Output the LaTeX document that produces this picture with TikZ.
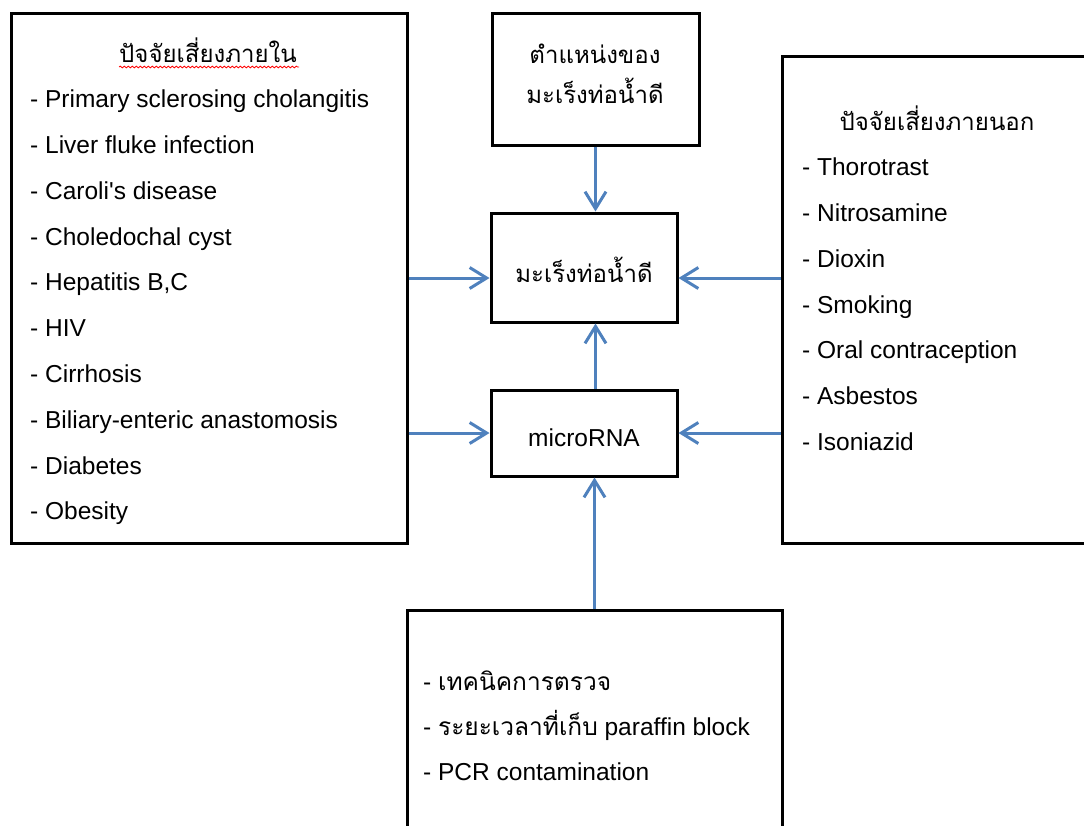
\documentclass[tikz,border=0pt]{standalone}
\usepackage{fontspec}
\setmainfont{Liberation Sans}[Ligatures=TeXOff]
\newfontfamily\thaifont[Script=Thai]{Loma}
\usetikzlibrary{arrows.meta,decorations.pathmorphing}
\definecolor{arrowblue}{RGB}{79,129,189}
\begin{document}
\begin{tikzpicture}[x=1pt,y=-1pt,
  box/.style={draw=black,line width=3pt,rectangle,inner sep=0pt},
  txt/.style={inner sep=0pt,font=\fontsize{24.5}{24.5}\selectfont},
  item/.style={txt,anchor=base west},
  ctitle/.style={txt,anchor=base,font=\fontsize{24}{24}\selectfont\thaifont},
  arr/.style={draw=arrowblue,line width=3pt,-{Straight Barb[length=17pt,width=21pt,line width=3pt]}}]
\useasboundingbox (0,0) rectangle (1084,825);
\fill[white] (0,0) rectangle (1084,825);
\clip (0,0) rectangle (1084,825);
% boxes
\node[box,minimum width=396pt,minimum height=530pt] (L) at (209,278) {};
\node[box,minimum width=207pt,minimum height=132pt] (T) at (595.5,79) {};
\node[box,minimum width=186pt,minimum height=109pt] (C) at (584,267.5) {};
\node[box,minimum width=186pt,minimum height=86pt] (M) at (584,433) {};
\node[box,minimum width=313pt,minimum height=487pt] (R) at (938.5,299.5) {};
\node[box,minimum width=375pt,minimum height=230pt] (B) at (594.5,725) {};
% left box text
\node[ctitle] (Lt) at (208,62) {ปัจจัยเสี่ยงภายใน};
\draw[red,line width=0.8pt,decorate,decoration={snake,amplitude=0.9pt,segment length=4pt}] (Lt.base west) ++(0,5) -- ++(180,0);
\node[item] (l1) at (30,107) {- Primary sclerosing cholangitis};
\node[item] (l2) at (30,153) {- Liver fluke infection};
\node[item] (l3) at (30,199) {- Caroli's disease};
\node[item] (l4) at (30,245) {- Choledochal cyst};
\node[item] (l5) at (30,290.5) {- Hepatitis B,C};
\node[item] (l6) at (30,336.5) {- HIV};
\node[item] (l7) at (30,382.5) {- Cirrhosis};
\node[item] (l8) at (30,428) {- Biliary-enteric anastomosis};
\node[item] (l9) at (30,474) {- Diabetes};
\node[item] (l10) at (30,519.5) {- Obesity};
% top box text
\node[ctitle] (t1) at (595,63) {ตำแหน่งของ};
\node[ctitle] (t2) at (595,103) {มะเร็งท่อน้ำดี};
% center boxes
\node[ctitle] (c1) at (584,282) {มะเร็งท่อน้ำดี};
\node[txt,anchor=base] (m1) at (584,446) {microRNA};
% right box text
\node[ctitle] (Rt) at (937,130) {ปัจจัยเสี่ยงภายนอก};
\node[item] (r1) at (802,175) {- Thorotrast};
\node[item] (r2) at (802,221) {- Nitrosamine};
\node[item] (r3) at (802,267) {- Dioxin};
\node[item] (r4) at (802,313) {- Smoking};
\node[item] (r5) at (802,358.5) {- Oral contraception};
\node[item] (r6) at (802,404.5) {- Asbestos};
\node[item] (r7) at (802,450) {- Isoniazid};
% bottom box text
\node[item] (b1) at (423,690) {- {\thaifont เทคนิคการตรวจ}};
\node[item] (b2) at (423,735) {- {\thaifont ระยะเวลาที่เก็บ} paraffin block};
\node[item] (b3) at (423,780) {- PCR contamination};
% arrows
\coordinate (yC) at (0,278);
\coordinate (yM) at (0,433);
\draw[arr] (L.east |- yC) -- (C.west |- yC);
\draw[arr] (R.west |- yC) -- (C.east |- yC);
\draw[arr] (L.east |- yM) -- (M.west |- yM);
\draw[arr] (R.west |- yM) -- (M.east |- yM);
\draw[arr] (T.south) -- (T.south |- C.north);
\draw[arr] (T.south |- M.north) -- (T.south |- C.south);
\draw[arr] (B.north) -- (B.north |- M.south);
\end{tikzpicture}
\end{document}
